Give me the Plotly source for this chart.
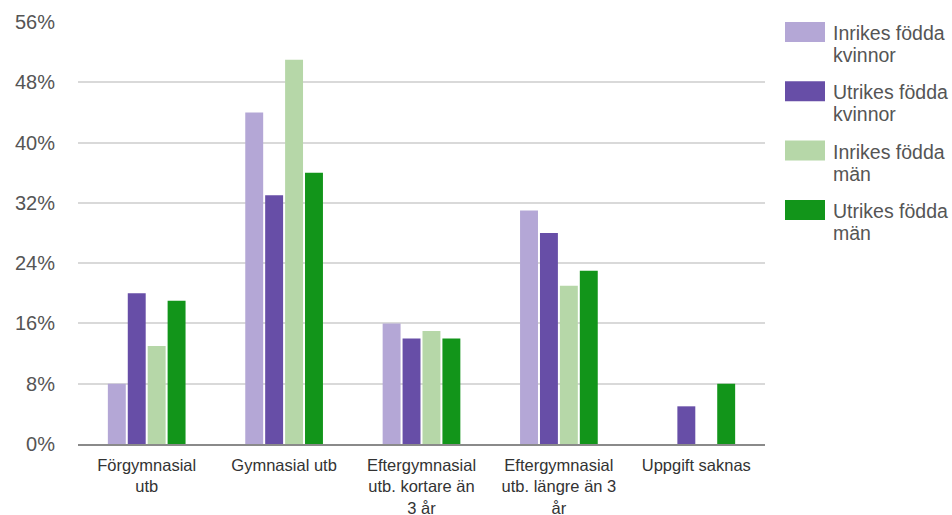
import plotly.graph_objects as go

categories = [
    "Förgymnasial<br>utb",
    "Gymnasial utb",
    "Eftergymnasial<br>utb. kortare än<br>3 år",
    "Eftergymnasial<br>utb. längre än 3<br>år",
    "Uppgift saknas",
]
series_names = [
    "Inrikes födda<br>kvinnor",
    "Utrikes födda<br>kvinnor",
    "Inrikes födda<br>män",
    "Utrikes födda<br>män",
]
inrikes_kvinnor = [8, 44, 16, 31, 0]
utrikes_kvinnor = [20, 33, 14, 28, 5]
inrikes_man = [13, 51, 15, 21, 0]
utrikes_man = [19, 36, 14, 23, 8]
colors = ["#b4a7d6", "#674ea7", "#b6d7a8", "#12951a"]
y_ticks = [0, 8, 16, 24, 32, 40, 48, 56]

values = [inrikes_kvinnor, utrikes_kvinnor, inrikes_man, utrikes_man]

FONT = "Liberation Sans, Arial, sans-serif"
W, H = 952, 515
ML, MR, MT, MB = 78, 187, 22, 71
PW, PH = W - ML - MR, H - MT - MB


def px_x(x):
    return (x - ML) / PW


def px_y(y):
    return (H - MB - y) / PH


fig = go.Figure()
for name, vals, col in zip(series_names, values, colors):
    fig.add_trace(go.Bar(
        x=categories, y=vals, name=name.replace("<br>", " "),
        marker=dict(color=col, line=dict(width=0)),
        showlegend=False,
    ))

# Legend: large swatches with two-line labels to the right of the plot
for i, (name, col) in enumerate(zip(series_names, colors)):
    top = 22 + i * 59.3
    fig.add_shape(type="rect", xref="paper", yref="paper",
                  x0=px_x(785), x1=px_x(825), y0=px_y(top + 20), y1=px_y(top),
                  fillcolor=col, line=dict(width=0))
    for j, line in enumerate(name.split("<br>")):
        fig.add_annotation(xref="paper", yref="paper",
                           x=px_x(831), y=px_y(top + 11 + j * 22),
                           xanchor="left", yanchor="middle", align="left",
                           text=line, showarrow=False,
                           font=dict(family=FONT, size=19.5, color="#555"))

fig.update_layout(
    width=W, height=H,
    margin=dict(l=ML, r=MR, t=MT, b=MB, autoexpand=False),
    paper_bgcolor="white", plot_bgcolor="white",
    barmode="group", bargap=0.42, bargroupgap=0.1,
    font=dict(family=FONT),
)
fig.update_xaxes(
    automargin=False,
    showgrid=False, showline=True, linecolor="#8a8a8a", linewidth=2,
    ticks="", tickfont=dict(family=FONT, size=16.5, color="#333"),
    ticklabelstandoff=5,
)
fig.update_yaxes(
    automargin=False,
    range=[0, 56], tickvals=y_ticks, ticktext=[f"{v}%" for v in y_ticks],
    showgrid=True, gridcolor="#d9d9d9", gridwidth=1.5,
    zeroline=False, showline=False, ticks="",
    tickfont=dict(family=FONT, size=20, color="#555"),
    ticklabelstandoff=22,
)

fig.write_html("out.html")
